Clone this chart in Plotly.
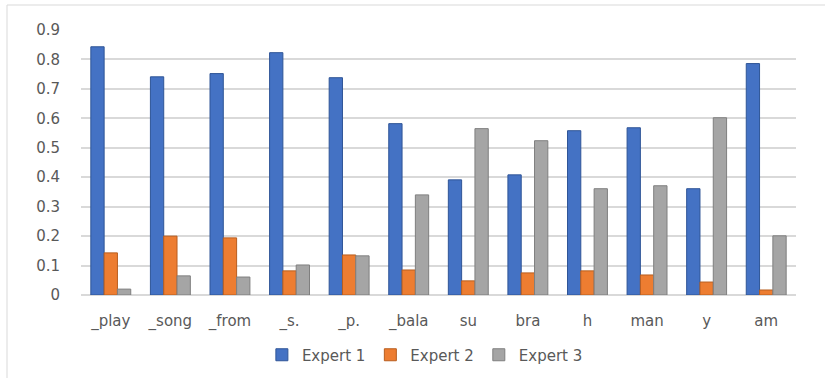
import plotly.graph_objects as go

categories = ["_play", "_song", "_from", "_s.", "_p.", "_bala", "su", "bra", "h", "man", "y", "am"]
expert1 = [0.843, 0.741, 0.752, 0.823, 0.738, 0.582, 0.391, 0.408, 0.558, 0.568, 0.361, 0.786]
expert2 = [0.143, 0.200, 0.194, 0.082, 0.136, 0.085, 0.048, 0.075, 0.082, 0.068, 0.044, 0.017]
expert3 = [0.020, 0.065, 0.061, 0.102, 0.133, 0.340, 0.565, 0.524, 0.361, 0.371, 0.602, 0.201]
series_names = ["Expert 1", "Expert 2", "Expert 3"]
colors = ["#4472C4", "#ED7D31", "#A5A5A5"]
edge_colors = ["#2F5597", "#B85E1F", "#7F7F7F"]
y_ticks = [0, 0.1, 0.2, 0.3, 0.4, 0.5, 0.6, 0.7, 0.8, 0.9]
y_tick_text = ["0", "0.1", "0.2", "0.3", "0.4", "0.5", "0.6", "0.7", "0.8", "0.9"]

W, H = 825, 378
L, R, T, B = 81, 29, 30, 83
plot_w = W - L - R
plot_h = H - T - B

fig = go.Figure()
for name, vals, col, edge in zip(series_names, [expert1, expert2, expert3], colors, edge_colors):
    fig.add_trace(go.Bar(
        x=categories, y=vals, name=name,
        marker=dict(color=col, line=dict(color=edge, width=1)),
    ))

# light frame around the chart area
def px_to_paper_x(px):
    return (px - L) / plot_w

def px_to_paper_y(py):
    return (H - B - py) / plot_h

fig.add_shape(type="rect", xref="paper", yref="paper",
              x0=px_to_paper_x(7), x1=px_to_paper_x(840),
              y0=px_to_paper_y(395), y1=px_to_paper_y(5),
              line=dict(color="#D9D9D9", width=1), fillcolor="rgba(0,0,0,0)", layer="below")

text_color = "#595959"
fig.update_layout(
    width=W, height=H,
    margin=dict(l=L, r=R, t=T, b=B, autoexpand=False),
    paper_bgcolor="white", plot_bgcolor="white",
    barmode="group", bargap=0.33, bargroupgap=0.0,
    font=dict(family="DejaVu Sans", size=15, color=text_color),
    xaxis=dict(
        showgrid=False, showline=False, zeroline=False, ticks="", automargin=False,
        tickfont=dict(size=15, color=text_color), ticklabelstandoff=15,
    ),
    yaxis=dict(
        range=[0, 0.9], tickvals=y_ticks, ticktext=y_tick_text, automargin=False,
        showgrid=True, gridcolor="#D9D9D9", gridwidth=2,
        zeroline=True, zerolinecolor="#D9D9D9", zerolinewidth=2,
        showline=False, ticks="",
        tickfont=dict(size=15, color=text_color), ticklabelstandoff=20,
    ),
    legend=dict(
        orientation="h", xref="container", yref="container",
        x=0.515, y=1 - 355 / H, xanchor="center", yanchor="middle",
        font=dict(size=15, color=text_color), itemwidth=30,
    ),
    showlegend=True,
)

fig.write_html("out.html")
